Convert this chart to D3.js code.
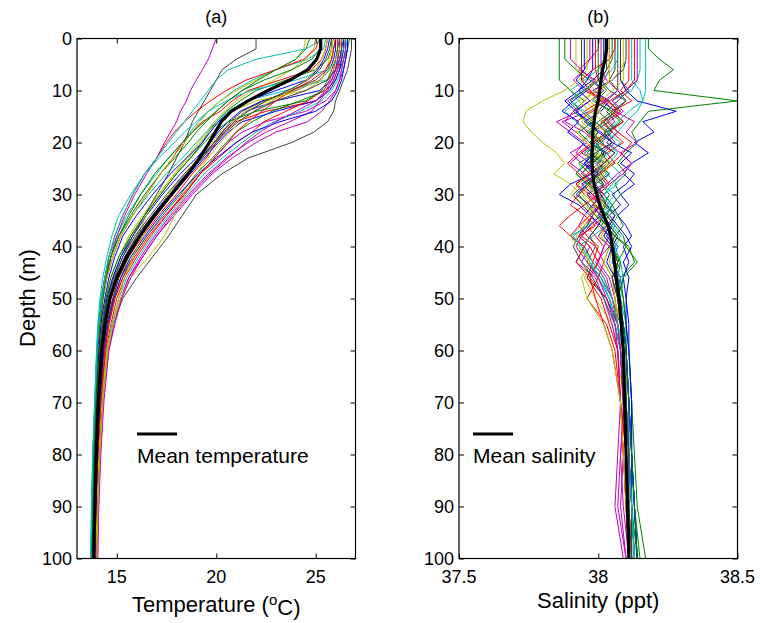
<!DOCTYPE html>
<html>
<head>
<meta charset="utf-8">
<script src="https://cdn.jsdelivr.net/npm/d3@7/dist/d3.min.js"></script>
<style>
    body { margin: 0; background: white; }
    text { font-family: "Liberation Sans", Arial, sans-serif; fill: black; }
</style>
</head>
<body>
<svg id="chart" width="760" height="623"></svg>
<script>
const TEMP_DEPTHS = [0, 2, 4, 6, 8, 10, 12, 14, 16, 18, 20, 23, 26, 30, 34, 38, 42, 46, 50, 55, 60, 70, 80, 90, 100];
const SAL_DEPTHS = [0, 2, 4, 6, 8, 10, 12, 14, 16, 18, 20, 22, 24, 26, 28, 30, 32, 34, 36, 38, 40, 43, 46, 50, 55, 60, 70, 80, 90, 100];

const depth_ticks = [0, 10, 20, 30, 40, 50, 60, 70, 80, 90, 100];
const temp_ticks = [15, 20, 25];
const sal_ticks = [37.5, 38, 38.5];

// matlab default line order: b g r c m y k
const line_colors = ["#0000ff", "#008000", "#ff0000", "#00bfbf", "#bf00bf", "#bfbf00", "#404040"];

const temp_profiles = [
    [26.2,26.2,26.1,26.0,25.8,25.2,23.0,21.5,20.8,20.3,19.9,19.2,18.5,17.6,16.8,16.0,15.4,15.0,14.7,14.4,14.3,14.1,14.0,13.9,13.85],
    [25.8,25.8,25.6,25.0,23.5,22.0,21.2,20.5,20.0,19.6,19.3,18.7,18.0,17.2,16.4,15.7,15.2,14.8,14.5,14.3,14.15,14.0,13.9,13.85,13.8],
    [26.5,26.4,26.3,26.1,25.9,25.6,25.0,22.5,21.0,20.4,20.0,19.5,18.8,18.0,17.1,16.3,15.6,15.1,14.8,14.5,14.3,14.1,14.0,13.95,13.9],
    [25.5,25.4,24.6,23.0,21.8,20.9,20.2,19.6,19.1,18.7,18.3,17.6,17.0,16.2,15.5,15.0,14.6,14.4,14.2,14.1,14.0,13.9,13.8,13.75,13.7],
    [26.6,26.6,26.5,26.4,26.2,26.0,25.5,24.5,22.5,21.3,20.6,19.9,19.2,18.4,17.4,16.5,15.8,15.2,14.9,14.6,14.4,14.2,14.1,14.0,13.95],
    [25.0,24.9,24.5,23.8,22.9,21.8,21.0,20.4,19.9,19.5,19.1,18.5,17.9,17.1,16.3,15.6,15.1,14.7,14.4,14.2,14.1,14.0,13.9,13.8,13.8],
    [26.8,26.8,26.7,26.6,26.4,26.2,26.0,25.9,25.6,24.9,23.8,21.6,20.3,19.0,18.3,17.6,16.8,16.0,15.3,14.8,14.5,14.25,14.1,14.0,13.95],
    [26.0,26.0,25.9,25.7,25.2,24.0,22.3,21.2,20.6,20.1,19.7,19.0,18.2,17.3,16.5,15.8,15.2,14.8,14.5,14.3,14.2,14.05,13.95,13.9,13.85],
    [26.7,26.6,26.4,26.2,26.0,25.5,24.2,22.8,21.8,21.0,20.5,19.8,19.0,18.2,17.3,16.5,15.8,15.3,14.9,14.6,14.4,14.15,14.05,13.95,13.9],
    [25.6,25.5,25.3,24.8,23.2,21.6,20.8,20.2,19.3,18.8,18.3,17.8,17.2,16.5,15.8,15.2,14.8,14.5,14.3,14.15,14.05,13.95,13.85,13.8,13.75],
    [26.3,26.3,26.2,26.0,25.5,23.5,21.5,20.6,20.0,19.5,19.0,18.3,17.5,16.6,15.8,15.1,14.7,14.4,14.2,14.05,14.0,13.9,13.8,13.75,13.7],
    [20.0,19.8,19.6,19.3,19.0,18.7,18.5,18.2,18.0,17.7,17.4,17.0,16.5,15.9,15.4,15.0,14.7,14.5,14.3,14.2,14.1,14.0,13.9,13.85,13.8],
    [25.9,25.8,25.7,25.5,25.3,24.5,22.0,20.8,20.1,19.6,19.2,18.6,17.9,17.1,16.5,16.0,15.6,15.2,14.9,14.6,14.4,14.2,14.05,13.95,13.9],
    [22.0,22.0,21.0,20.3,20.0,19.7,19.4,19.1,18.8,18.6,18.4,18.0,17.6,17.0,16.4,15.8,15.3,14.9,14.6,14.35,14.2,14.05,13.95,13.9,13.85],
    [26.4,26.4,26.3,26.2,26.0,25.7,25.0,23.0,21.3,20.6,20.1,19.4,18.7,17.8,16.9,16.1,15.5,15.0,14.7,14.45,14.3,14.1,14.0,13.95,13.9],
    [25.3,25.2,24.8,23.8,22.4,21.3,20.6,20.0,19.5,19.0,18.6,17.9,17.2,16.4,15.7,15.1,14.7,14.4,14.25,14.1,14.0,13.9,13.8,13.75,13.7],
    [26.1,26.1,26.0,25.9,25.7,25.4,24.6,23.5,22.4,21.8,21.0,20.1,19.2,18.3,17.5,16.7,16.0,15.4,15.0,14.7,14.45,14.2,14.05,13.95,13.9],
    [26.6,26.5,26.4,26.3,26.1,25.8,25.3,24.2,22.9,22.0,21.3,20.3,19.4,18.5,17.6,16.8,16.1,15.5,15.1,14.75,14.5,14.25,14.1,14.0,13.95],
    [26.5,26.5,26.4,26.3,26.2,26.0,25.7,25.3,24.6,23.0,22.0,20.8,19.8,18.8,17.9,17.0,16.3,15.6,15.2,14.8,14.55,14.3,14.15,14.05,14.0],
    [24.5,24.4,24.0,23.0,22.0,21.0,20.2,19.6,19.2,18.8,18.4,17.8,17.2,16.5,15.8,15.2,14.8,14.5,14.3,14.15,14.05,13.95,13.85,13.8,13.75],
    [26.0,25.9,25.8,25.6,25.0,23.8,22.4,21.3,20.7,20.3,19.9,19.3,18.6,17.8,17.0,16.2,15.6,15.1,14.8,14.5,14.3,14.1,14.0,13.9,13.85],
    [25.7,25.6,25.4,25.1,24.5,23.0,21.6,20.7,20.1,19.7,19.3,18.5,17.7,16.8,16.0,15.3,14.9,14.6,14.4,14.2,14.1,13.95,13.85,13.8,13.75],
    [26.2,26.1,26.0,25.8,25.6,25.3,24.5,22.0,20.6,19.9,19.4,18.7,18.0,17.2,16.4,15.7,15.1,14.7,14.45,14.25,14.15,14.0,13.9,13.85,13.8],
    [25.2,25.0,24.4,23.0,21.5,20.5,19.7,19.0,18.4,17.9,17.5,17.0,16.4,15.8,15.3,14.9,14.6,14.4,14.25,14.1,14.0,13.9,13.8,13.75,13.7],
    [26.5,26.4,26.2,25.6,24.0,21.7,20.5,19.6,19.0,18.4,17.9,17.1,16.4,15.7,15.1,14.75,14.5,14.3,14.15,14.05,13.98,13.88,13.78,13.72,13.68],
    [26.3,26.3,26.2,26.1,25.9,25.6,25.2,24.8,23.7,22.5,21.6,20.5,19.6,18.6,17.7,16.9,16.2,15.6,15.2,14.85,14.6,14.35,14.2,14.1,14.05],
    [25.6,25.5,25.3,25.0,24.5,23.7,22.8,21.9,21.2,20.7,20.2,19.6,19.0,18.4,17.9,17.4,16.6,15.7,15.2,14.8,14.5,14.25,14.1,14.0,13.95],
    [26.4,26.3,26.2,26.0,25.6,24.5,23.0,21.9,21.1,20.5,20.0,19.3,18.6,17.7,16.8,16.0,15.4,14.95,14.65,14.4,14.25,14.1,14.0,13.9,13.85],
    [26.6,26.6,26.5,26.4,26.3,26.1,25.8,25.0,23.2,21.8,21.0,20.0,19.1,18.1,17.2,16.4,15.7,15.2,14.85,14.55,14.35,14.15,14.05,13.95,13.9],
    [24.7,24.5,24.0,23.0,22.1,21.3,20.6,20.0,19.4,18.8,18.3,17.6,16.9,16.2,15.6,15.1,14.7,14.45,14.3,14.15,14.05,13.95,13.85,13.8,13.75],
    [26.0,25.9,25.8,25.5,24.8,23.8,23.0,22.3,21.6,21.0,20.6,19.9,19.2,18.4,17.5,16.6,15.9,15.3,14.9,14.6,14.4,14.2,14.05,13.95,13.9],
    [25.4,24.5,22.0,20.6,20.0,19.6,19.2,18.8,18.4,18.0,17.6,17.0,16.4,15.8,15.3,14.9,14.6,14.4,14.25,14.1,14.0,13.9,13.8,13.75,13.7],
    [26.2,26.2,26.1,26.0,25.8,25.5,25.0,24.0,23.0,22.2,21.5,20.6,19.7,18.7,17.8,17.0,16.3,15.7,15.25,14.9,14.6,14.3,14.15,14.05,14.0],
    [26.3,26.2,26.0,25.7,25.2,24.0,22.6,21.5,20.8,20.2,19.8,19.1,18.4,17.6,16.9,16.3,15.8,15.4,15.1,14.8,14.55,14.3,14.15,14.05,14.0],
    [25.8,25.7,25.5,25.2,24.6,23.6,22.5,21.6,20.9,20.4,19.9,19.2,18.4,17.5,16.7,15.9,15.3,14.85,14.55,14.3,14.15,14.0,13.9,13.85,13.8]
];

const mean_temp = [25.25,25.25,25.05,24.6,23.7,22.6,21.6,20.75,20.25,19.95,19.65,19.15,18.6,17.75,16.9,16.15,15.5,15.0,14.65,14.4,14.24,14.07,13.97,13.9,13.84];

const sal_profiles = [
    [38.10,38.10,38.10,38.09,38.05,37.98,38.04,38.01,37.95,38.00,37.97,38.03,37.96,38.00,37.94,37.98,38.02,38.00,38.05,38.03,38.06,38.05,38.08,38.07,38.09,38.10,38.11,38.11,38.12,38.12],
    [37.88,37.88,37.88,37.92,37.97,38.02,37.98,38.05,38.00,37.96,38.02,37.99,37.93,37.97,38.01,38.04,38.02,38.06,38.04,38.07,38.05,38.08,38.07,38.09,38.10,38.10,38.11,38.12,38.13,38.15],
    [38.00,38.00,37.97,37.93,37.99,37.95,38.02,37.98,37.92,37.96,37.99,37.94,38.00,37.96,37.92,37.97,38.01,37.98,37.96,37.99,38.02,38.00,37.97,38.03,38.07,38.08,38.10,38.11,38.12,38.13],
    [38.15,38.15,38.15,38.15,38.14,38.12,38.05,38.08,38.02,38.05,37.99,38.03,38.00,38.04,38.01,38.06,38.03,38.07,38.05,38.08,38.06,38.08,38.09,38.08,38.10,38.10,38.11,38.12,38.12,38.13],
    [37.97,37.97,37.97,37.95,37.91,37.95,37.89,37.93,37.85,37.90,37.95,37.92,37.97,37.94,37.99,37.96,38.01,37.98,37.95,37.93,37.97,37.94,38.00,38.04,38.07,38.09,38.10,38.08,38.09,38.11],
    [37.96,37.96,37.96,37.96,37.93,37.88,37.80,37.74,37.73,37.76,37.80,37.85,37.88,37.84,37.90,37.94,37.97,37.99,37.95,37.92,37.94,37.97,37.95,37.99,38.05,38.07,38.09,38.10,38.10,38.11],
    [38.06,38.06,38.06,38.06,38.04,38.07,38.03,38.00,38.04,37.98,38.01,37.97,38.03,37.99,38.02,37.96,37.99,38.02,38.00,37.97,37.99,37.96,38.01,38.05,38.08,38.09,38.10,38.11,38.11,38.12],
    [38.08,38.08,38.08,38.08,38.08,38.10,38.14,38.28,38.16,38.20,38.13,38.18,38.12,38.09,38.13,38.08,38.11,38.07,38.10,38.12,38.09,38.11,38.09,38.10,38.11,38.11,38.12,38.12,38.13,38.14],
    [38.18,38.18,38.22,38.27,38.22,38.20,38.50,38.18,38.15,38.12,38.14,38.10,38.07,38.10,38.06,38.08,38.05,38.07,38.09,38.06,38.11,38.13,38.08,38.09,38.10,38.11,38.12,38.13,38.14,38.17],
    [38.13,38.13,38.13,38.13,38.13,38.10,38.04,38.07,38.01,38.05,38.09,38.03,38.06,38.00,38.03,37.98,38.01,37.97,37.93,37.96,38.00,37.98,38.02,38.05,38.07,38.08,38.09,38.10,38.11,38.12],
    [38.02,38.02,38.02,38.00,37.95,37.90,37.93,37.88,37.92,37.97,37.94,37.99,37.95,37.92,37.96,38.00,38.03,38.00,37.97,37.90,37.93,37.97,38.01,38.04,38.06,38.08,38.09,38.10,38.11,38.12],
    [38.04,38.04,38.04,38.04,38.02,37.99,38.03,37.97,37.87,37.92,37.96,37.90,37.94,38.00,37.97,38.02,37.98,37.95,37.93,37.90,37.95,37.92,37.99,38.02,38.05,38.07,38.08,38.09,38.08,38.10],
    [37.92,37.92,37.92,37.92,37.95,37.99,37.95,38.00,37.97,38.03,37.99,37.95,38.01,37.97,37.93,37.90,37.95,37.99,38.02,38.00,38.04,38.02,38.05,38.06,38.08,38.09,38.10,38.10,38.11,38.12],
    [38.07,38.07,38.07,38.07,38.07,38.07,38.10,38.05,38.09,38.03,38.06,38.02,38.00,38.04,37.99,38.02,38.05,38.02,38.00,37.97,37.95,37.98,37.96,38.03,38.07,38.08,38.09,38.10,38.11,38.11],
    [37.98,37.98,37.98,37.98,37.96,37.93,37.97,37.92,37.96,38.01,38.05,37.99,37.95,37.98,37.90,37.86,37.93,37.97,38.01,38.04,38.07,38.05,38.08,38.07,38.09,38.10,38.11,38.12,38.12,38.13],
    [38.05,38.05,38.05,38.03,38.00,37.95,37.90,37.94,37.98,37.93,37.97,38.00,37.96,37.92,37.96,38.01,37.98,38.04,38.01,38.06,38.04,38.08,38.05,38.07,38.08,38.09,38.10,38.11,38.12,38.13],
    [38.11,38.11,38.11,38.11,38.11,38.08,38.12,38.05,38.09,38.04,38.00,38.06,38.02,37.97,37.92,37.95,37.99,38.03,37.98,37.94,37.99,38.02,38.00,37.96,38.03,38.06,38.08,38.09,38.10,38.11],
    [38.17,38.17,38.17,38.17,38.17,38.17,38.16,38.14,38.10,38.07,38.03,38.07,38.04,38.08,38.05,38.02,38.05,38.03,38.06,38.04,38.07,38.05,38.08,38.07,38.09,38.10,38.11,38.12,38.13,38.14],
    [38.01,38.01,38.01,38.01,38.03,38.07,38.02,38.06,38.13,38.10,38.14,38.08,38.12,38.07,38.03,37.98,38.01,37.97,38.00,38.04,38.02,38.00,38.04,38.06,38.07,38.08,38.09,38.08,38.07,38.10],
    [38.09,38.09,38.09,38.09,38.09,38.05,38.01,37.97,38.02,37.99,37.94,37.98,38.03,38.00,37.96,37.99,38.02,38.00,38.03,38.01,38.04,38.02,38.05,38.06,38.07,38.08,38.09,38.10,38.10,38.11],
    [37.94,37.94,37.94,37.94,37.94,37.97,38.01,38.06,38.02,37.97,38.00,37.96,38.02,37.99,37.95,37.91,37.94,37.98,37.96,37.93,37.91,37.94,37.98,38.02,38.06,38.08,38.09,38.10,38.11,38.12],
    [38.02,38.02,38.02,38.02,37.98,37.93,37.88,37.92,37.97,38.00,38.05,38.12,38.08,38.13,38.10,38.05,38.08,38.04,38.07,38.10,38.12,38.09,38.11,38.10,38.10,38.11,38.12,38.12,38.13,38.14],
    [37.86,37.86,37.86,37.86,37.86,37.90,37.95,37.91,37.96,38.00,37.97,38.02,37.98,37.94,37.98,38.02,38.05,38.03,38.06,38.09,38.10,38.14,38.09,38.07,38.08,38.09,38.10,38.11,38.12,38.14],
    [38.06,38.06,38.04,37.98,37.94,37.97,38.01,37.95,37.99,38.03,37.98,37.93,37.89,37.93,37.97,37.93,37.90,37.95,37.99,37.93,37.97,38.00,37.96,38.01,38.04,38.07,38.08,38.10,38.10,38.11],
    [38.12,38.12,38.12,38.12,38.12,38.15,38.16,38.11,38.07,38.03,38.08,38.04,37.99,38.03,37.98,38.01,38.04,38.01,38.03,37.98,37.93,37.97,38.00,38.04,38.06,38.08,38.10,38.11,38.12,38.13],
    [38.14,38.14,38.14,38.14,38.14,38.10,38.05,38.09,38.04,38.07,38.03,38.08,38.12,38.09,38.04,38.00,38.03,38.06,38.03,38.00,38.04,37.99,38.03,38.05,38.07,38.08,38.09,38.10,38.11,38.12],
    [38.10,38.10,38.10,38.08,38.05,38.00,37.93,37.97,37.94,37.98,38.02,37.99,38.04,38.01,37.97,38.00,38.03,38.01,38.04,38.02,38.05,38.04,38.06,38.07,38.08,38.09,38.10,38.10,38.11,38.12],
    [38.03,38.03,38.03,38.03,38.01,38.04,38.10,38.06,38.02,38.05,38.01,38.06,38.02,37.98,38.02,37.99,38.03,38.06,38.04,38.07,38.05,38.07,38.06,38.08,38.09,38.10,38.10,38.11,38.12,38.12],
    [37.95,37.95,37.95,37.95,37.92,37.96,37.91,37.87,37.93,37.89,37.94,37.98,37.95,38.00,37.96,37.92,37.97,38.01,38.04,38.02,38.05,38.03,38.06,38.07,38.09,38.10,38.11,38.12,38.13,38.14],
    [38.00,38.00,38.00,38.00,38.00,38.03,37.99,38.04,38.08,38.03,37.99,38.02,37.97,38.01,37.96,37.93,37.96,37.99,38.03,38.06,38.10,38.07,38.05,38.07,38.09,38.10,38.11,38.12,38.13,38.14],
    [37.99,37.99,37.99,37.99,38.00,37.96,38.03,38.08,38.03,38.07,38.12,38.09,38.05,38.01,38.04,38.00,37.95,37.90,37.86,37.90,37.95,37.92,37.97,37.99,38.02,38.05,38.08,38.09,38.10,38.11],
    [38.07,38.07,38.07,38.05,38.01,37.94,37.90,37.95,37.99,38.04,38.01,37.95,37.99,38.03,38.07,38.02,38.05,38.02,37.96,37.91,37.94,37.98,38.02,38.05,38.07,38.09,38.10,38.11,38.12,38.13],
    [37.90,37.90,37.90,37.94,37.98,38.02,37.97,37.91,37.88,37.95,37.99,37.94,37.90,37.95,37.99,38.02,37.98,38.01,37.97,37.94,37.92,37.96,38.00,38.03,38.06,38.07,38.08,38.07,38.06,38.09],
    [38.04,38.04,38.04,38.04,38.04,38.01,37.97,38.01,37.96,37.92,37.96,38.00,38.05,38.02,37.98,37.95,37.99,37.97,37.94,37.90,37.93,37.97,37.94,37.96,38.02,38.05,38.08,38.09,38.10,38.11],
    [38.08,38.08,38.08,38.08,38.08,38.11,38.07,38.03,38.06,38.02,38.05,38.01,38.04,38.00,37.97,38.01,38.03,38.00,38.03,38.06,38.04,38.07,38.05,38.07,38.08,38.09,38.10,38.11,38.11,38.12]
];

const mean_sal = [38.03,38.03,38.025,38.015,38.01,38.005,38.0,37.99,37.985,37.98,37.98,37.978,37.978,37.98,37.985,37.995,38.005,38.02,38.035,38.045,38.05,38.058,38.065,38.075,38.083,38.09,38.095,38.1,38.105,38.11];

const TOP = 38.5;
const BOTTOM = 558.5;
const TICK_LEN = 5;

var svg = d3.select("svg#chart");

function draw_panel(conf) {
    var x = d3.scaleLinear().domain(conf.domain).range([conf.left, conf.right]);
    var y = d3.scaleLinear().domain([0, 100]).range([TOP, BOTTOM]);
    var g = svg.append("g").attr("id", conf.id);

    g.append("clipPath").attr("id", conf.id + "_clip")
        .append("rect")
        .attr("x", conf.left)
        .attr("y", TOP)
        .attr("width", conf.right - conf.left)
        .attr("height", BOTTOM - TOP);

    var line = d3.line()
        .defined(d => d[0] !== undefined)
        .x(d => x(d[0]))
        .y(d => y(d[1]));

    var to_points = values => conf.depths.map((dep, i) => [values[i], dep]);

    var lines_g = g.append("g").attr("clip-path", "url(#" + conf.id + "_clip)");
    lines_g.selectAll("path.profile")
        .data(conf.profiles)
        .join("path")
        .attr("class", "profile")
        .attr("d", d => line(to_points(d)))
        .attr("fill", "none")
        .attr("stroke", (d, i) => line_colors[i % line_colors.length])
        .attr("stroke-width", 1)
        .attr("stroke-linejoin", "round");

    lines_g.append("path")
        .attr("d", line(to_points(conf.mean)))
        .attr("fill", "none")
        .attr("stroke", "black")
        .attr("stroke-width", 3.2)
        .attr("stroke-linejoin", "round");

    // axes, matlab style: ticks inside on all four sides
    var left_axis = g.append("g")
        .attr("transform", "translate(" + conf.left + ",0)")
        .call(d3.axisRight(y).tickValues(depth_ticks).tickSize(TICK_LEN).tickFormat(""));
    var right_axis = g.append("g")
        .attr("transform", "translate(" + conf.right + ",0)")
        .call(d3.axisLeft(y).tickValues(depth_ticks).tickSize(TICK_LEN).tickFormat(""));
    var top_axis = g.append("g")
        .attr("transform", "translate(0," + TOP + ")")
        .call(d3.axisBottom(x).tickValues(conf.ticks).tickSize(TICK_LEN).tickFormat(""));
    var bottom_axis = g.append("g")
        .attr("transform", "translate(0," + BOTTOM + ")")
        .call(d3.axisTop(x).tickValues(conf.ticks).tickSize(TICK_LEN).tickFormat(""));
    [left_axis, right_axis, top_axis, bottom_axis].forEach(a => {
        a.select(".domain").remove();
        a.selectAll("line").attr("stroke", "black").attr("stroke-width", 1);
    });

    g.append("rect")
        .attr("x", conf.left)
        .attr("y", TOP)
        .attr("width", conf.right - conf.left)
        .attr("height", BOTTOM - TOP)
        .attr("fill", "none")
        .attr("stroke", "black")
        .attr("stroke-width", 1.2);

    g.selectAll("text.ylab")
        .data(depth_ticks)
        .join("text")
        .attr("class", "ylab")
        .attr("x", conf.left - 5)
        .attr("y", d => y(d))
        .attr("dy", "0.36em")
        .attr("text-anchor", "end")
        .style("font-size", "18px")
        .text(d => d);

    g.selectAll("text.xlab")
        .data(conf.ticks)
        .join("text")
        .attr("class", "xlab")
        .attr("x", d => x(d))
        .attr("y", 583)
        .attr("text-anchor", "middle")
        .style("font-size", "18px")
        .text(d => d);

    g.append("text")
        .attr("x", (conf.left + conf.right) / 2)
        .attr("y", 23)
        .attr("text-anchor", "middle")
        .style("font-size", "18px")
        .text(conf.title);

    var xlabel = g.append("text")
        .attr("x", (conf.left + conf.right) / 2)
        .attr("y", conf.label_y)
        .attr("text-anchor", "middle")
        .style("font-size", "22px");
    conf.label.forEach(part => {
        var t = xlabel.append("tspan").text(part.text);
        if (part.sup) t.attr("dy", "-0.45em").style("font-size", "15px");
        if (part.after_sup) t.attr("dy", "0.45em");
    });

    // legend
    g.append("line")
        .attr("x1", conf.legend_x)
        .attr("x2", conf.legend_x + 40)
        .attr("y1", 434)
        .attr("y2", 434)
        .attr("stroke", "black")
        .attr("stroke-width", 3);
    g.append("text")
        .attr("x", conf.legend_x)
        .attr("y", 463)
        .style("font-size", "21px")
        .text(conf.legend);
}

draw_panel({
    id: "temp",
    left: 77,
    right: 355.5,
    domain: [13, 27],
    ticks: temp_ticks,
    depths: TEMP_DEPTHS,
    profiles: temp_profiles,
    mean: mean_temp,
    title: "(a)",
    label: [{ text: "Temperature (" }, { text: "o", sup: true }, { text: "C)", after_sup: true }],
    label_y: 612,
    legend: "Mean temperature",
    legend_x: 137
});

draw_panel({
    id: "sal",
    left: 459,
    right: 737.5,
    domain: [37.5, 38.5],
    ticks: sal_ticks,
    depths: SAL_DEPTHS,
    profiles: sal_profiles,
    mean: mean_sal,
    title: "(b)",
    label: [{ text: "Salinity (ppt)" }],
    label_y: 608,
    legend: "Mean salinity",
    legend_x: 473
});

svg.append("text")
    .attr("transform", "translate(35,298) rotate(-90)")
    .attr("text-anchor", "middle")
    .style("font-size", "22px")
    .text("Depth (m)");
</script>
</body>
</html>
